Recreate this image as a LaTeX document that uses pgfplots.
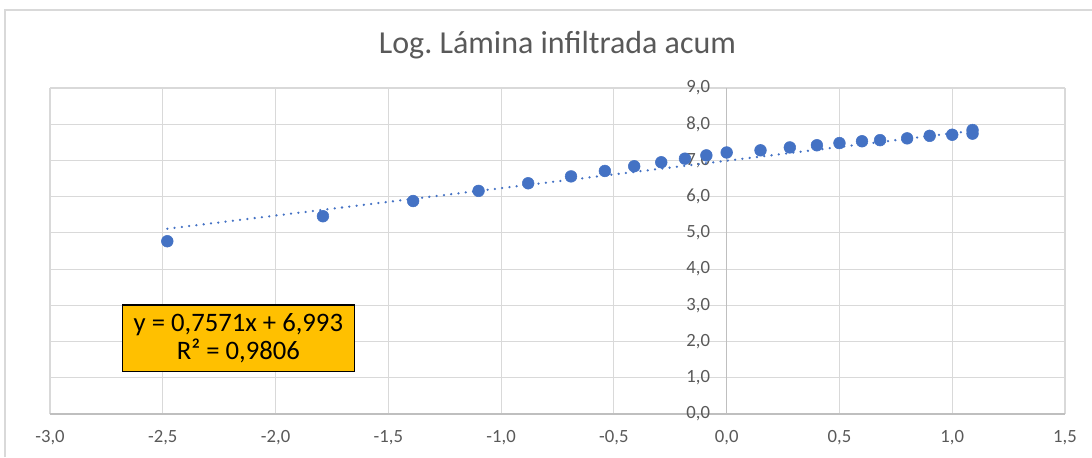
\documentclass[border=0pt]{standalone}
\usepackage{pgfplots}
\pgfplotsset{compat=1.18}
\usepackage{fontspec}
\setmainfont{Carlito}
\definecolor{ptblue}{HTML}{4472C4}
\definecolor{txtgray}{HTML}{595959}
\definecolor{gridgray}{HTML}{D9D9D9}
\definecolor{axgray}{HTML}{BFBFBF}
\definecolor{boxorange}{HTML}{FFC000}
\begin{document}
\begin{tikzpicture}
\path[use as bounding box] (-37.5pt,-32.25pt) rectangle (781.5pt,310.5pt);
\draw[gridgray, line width=0.8pt] (-33.75pt,-32.25pt) -- (-33.75pt,303pt) -- (781.5pt,303pt);
\begin{axis}[
  scale only axis,
  width=761.25pt, height=244.5pt,
  xmin=-3, xmax=1.5, ymin=0, ymax=9,
  xtick={-3,-2.5,...,1.5},
  ytick={0,1,...,9},
  axis x line=bottom,
  axis y line=center,
  hide obscured x ticks=false,
  hide obscured y ticks=false,
  axis line style={-, axgray, line width=0.8pt},
  major tick length=0pt,
  grid=major,
  grid style={gridgray, line width=0.8pt},
  /pgf/number format/.cd, use comma, fixed, fixed zerofill, precision=1, assume math mode=true,
  /pgfplots/.cd,
  tick label style={font=\fontsize{14}{16}\selectfont, text=txtgray},
  xticklabel style={yshift=-8.5pt},
  yticklabel style={xshift=-9pt},
  title={Log.\ Lámina infiltrada acum},
  title style={at={(0.5,1)}, anchor=center, yshift=26pt, font=\fontsize{24}{28}\selectfont, text=txtgray},
  clip=false,
]
\addplot[ptblue, line width=1.9pt, line cap=round, dash pattern=on 0pt off 5.5pt] coordinates {(-2.48,5.115) (1.09,7.818)};
\addplot[only marks, mark=*, mark size=4.4pt, ptblue, mark options={draw=ptblue, fill=ptblue}] coordinates {
(-2.48,4.77) (-1.79,5.46) (-1.39,5.88) (-1.10,6.16) (-0.88,6.37) (-0.69,6.56) (-0.54,6.71) (-0.41,6.84) (-0.29,6.95) (-0.185,7.05) (-0.09,7.14) (0.00,7.22) (0.15,7.28) (0.28,7.36) (0.40,7.42) (0.50,7.48) (0.60,7.53) (0.68,7.56) (0.80,7.61) (0.90,7.68) (1.00,7.71) (1.09,7.84) (1.09,7.74)
};
\node[draw=black, line width=0.9pt, fill=boxorange, minimum width=174pt, minimum height=50pt, align=center, font=\fontsize{20}{21}\selectfont, inner sep=1pt] at (axis cs:-2.165,2.09) {y = 0,7571x + 6,993\\R² = 0,9806};
\end{axis}
\end{tikzpicture}
\end{document}
